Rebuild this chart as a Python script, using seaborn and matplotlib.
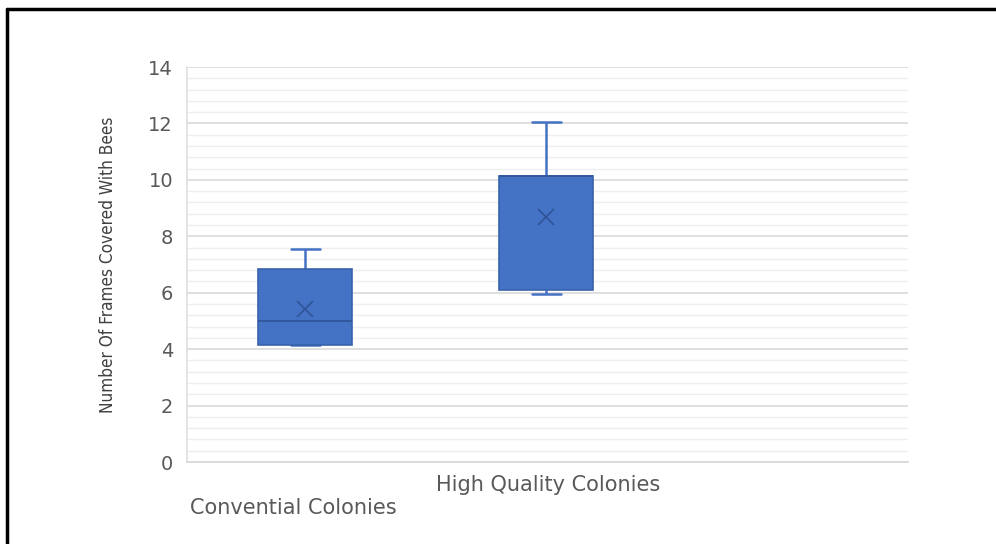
import numpy as np
import pandas as pd
import seaborn as sns
import matplotlib
matplotlib.use("Agg")
import matplotlib.pyplot as plt
from matplotlib.lines import Line2D

# ---- data ----
groups = ["Convential Colonies", "High Quality Colonies"]
conventional = [4.15, 4.15, 4.15, 4.5, 5.0, 5.5, 6.85, 6.93, 7.55]
high_quality = [5.96, 6.0, 6.1, 6.1, 10.14, 10.14, 10.14, 11.57, 12.06]
y_ticks = [0, 2, 4, 6, 8, 10, 12, 14]
y_label = "Number Of Frames Covered With Bees"

df = pd.DataFrame({
    "group": [groups[0]] * len(conventional) + [groups[1]] * len(high_quality),
    "frames": conventional + high_quality,
})

sns.set_theme(style="white")
plt.rcParams["font.family"] = ["DejaVu Sans"]

fig = plt.figure(figsize=(9.96, 5.44), dpi=100)
ax = fig.add_axes([187 / 996, 1 - 462 / 544, (908 - 187) / 996, (462 - 67) / 544])

fill = "#4472C4"
edge = "#3A62AA"
sns.boxplot(
    data=df, x="group", y="frames", order=groups, ax=ax,
    color=fill, width=0.39, whis=1.5, showfliers=False,
    showmeans=True,
    boxprops=dict(facecolor=fill, edgecolor=edge, linewidth=1.2, zorder=3),
    medianprops=dict(color="#2F5597", linewidth=1.2, zorder=4),
    whiskerprops=dict(color=fill, linewidth=1.8, zorder=2),
    capprops=dict(color=fill, linewidth=1.8, zorder=2),
    meanprops=dict(marker="x", markeredgecolor="#2F5597", markersize=11,
                   markeredgewidth=1.2, zorder=5),
    capwidths=0.12,
)

ax.set_xlim(-0.49, 2.5)
ax.set_ylim(0, 14)
ax.set_yticks(y_ticks)
ax.set_yticks(np.arange(0, 14.01, 0.4), minor=True)
ax.set_yticklabels([str(t) for t in y_ticks], color="#595959", fontsize=14,
                   family="DejaVu Sans")
ax.tick_params(axis="y", which="both", length=0, pad=10)
ax.set_xticks([])
ax.set_xlabel("")
ax.set_ylabel(y_label, fontsize=12.3, color="#404040",
              family=["DejaVu Sans"], fontstretch="condensed")
ax.yaxis.set_label_coords(-0.097, 0.5)

ax.grid(axis="y", which="major", color="#D9D9D9", linewidth=1.2)
ax.grid(axis="y", which="minor", color="#EFEFEF", linewidth=1.0)
ax.set_axisbelow(True)
for s in ["top", "right"]:
    ax.spines[s].set_visible(False)
ax.spines["left"].set_color("#E0E0E0")
ax.spines["bottom"].set_color("#D9D9D9")

cat_font = ["DejaVu Sans"]
fig.text(548 / 996, 1 - 485 / 544, groups[1], ha="center", va="center",
         fontsize=15, color="#595959", family=cat_font)
fig.text(190 / 996, 1 - 508 / 544, groups[0], ha="left", va="center",
         fontsize=15, color="#595959", family=cat_font)

# black frame edges at top and left
fig.add_artist(Line2D([7 / 996, 1.0], [1 - 8.5 / 544, 1 - 8.5 / 544],
                      transform=fig.transFigure, color="black", linewidth=2.5))
fig.add_artist(Line2D([7 / 996, 7 / 996], [0, 1 - 8.5 / 544],
                      transform=fig.transFigure, color="black", linewidth=2.5))

fig.savefig("out.png", dpi=100, facecolor="white")
